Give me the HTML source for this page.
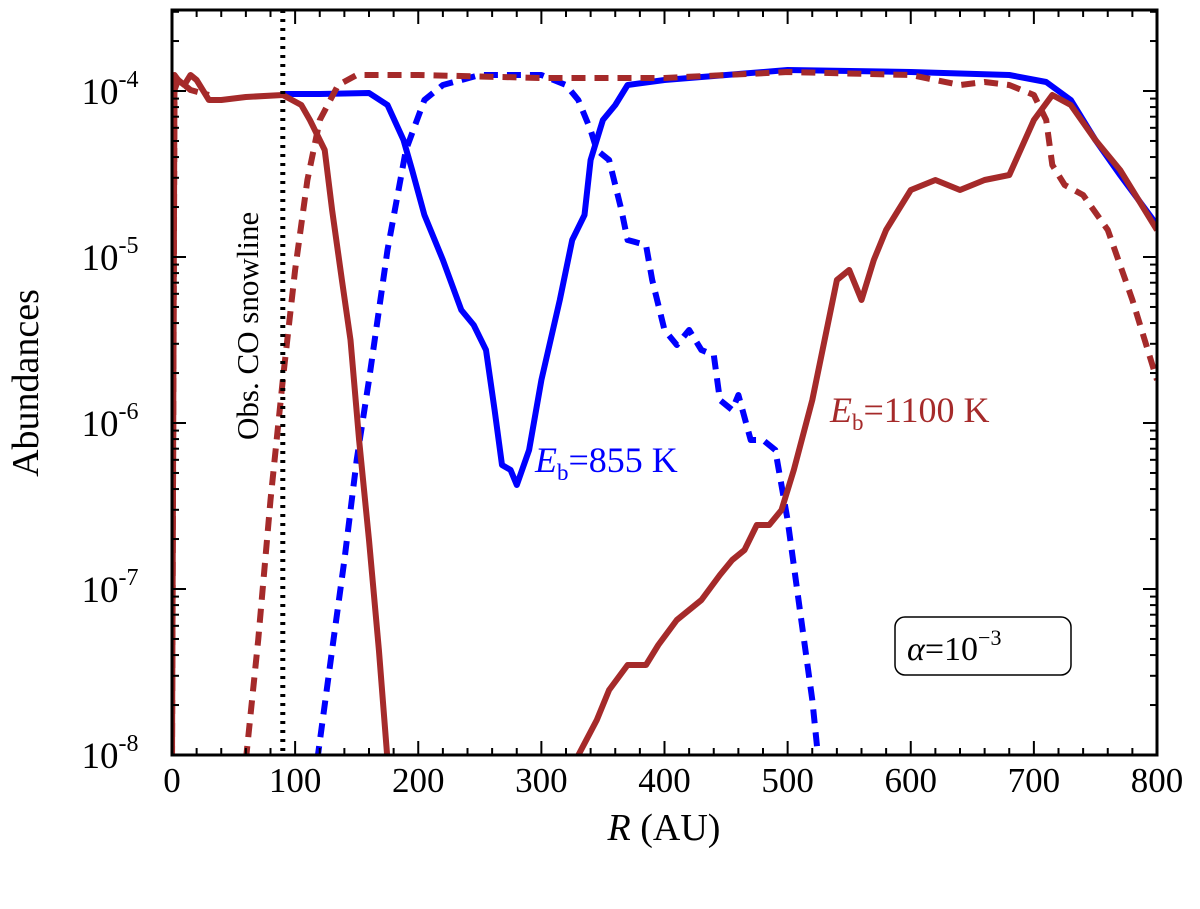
<!DOCTYPE html>
<html><head><meta charset="utf-8"><style>
body{margin:0;background:#fff}
svg text{font-family:"Liberation Serif",serif}
</style></head><body>
<svg id="chart" width="1200" height="904" xmlns="http://www.w3.org/2000/svg">
<g id="grid"></g>
<g id="series"></g>
<g id="axes"></g>
<line x1="282.8" y1="10" x2="282.8" y2="755" stroke="#000" stroke-width="5" stroke-dasharray="3,6"/>
<text transform="translate(258,440) rotate(-90)" font-size="31">Obs. CO snowline</text>
<text x="535" y="472" font-size="36" fill="#0000ff"><tspan font-style="italic">E</tspan><tspan font-size="23" dy="8">b</tspan><tspan dy="-8">=855 K</tspan></text>
<text x="830" y="422" font-size="36" fill="#a52a2a"><tspan font-style="italic">E</tspan><tspan font-size="23" dy="8">b</tspan><tspan dy="-8">=1100 K</tspan></text>
<rect x="895" y="617" width="176" height="58" rx="10" fill="#fff" stroke="#000" stroke-width="1.5"/>
<text x="907" y="660" font-size="34"><tspan font-style="italic">α</tspan>=10<tspan font-size="22" dy="-15">−3</tspan></text>
<text transform="translate(38,383) rotate(-90)" text-anchor="middle" font-size="38">Abundances</text>
<text x="664" y="840" text-anchor="middle" font-size="38"><tspan font-style="italic">R</tspan> (AU)</text>
</svg>
<script>
const xTicks=[0,100,200,300,400,500,600,700,800];
const yTicks=[-4,-5,-6,-7,-8];
const blueSolidR=[88,120,160,175,188,195,205,220,235,245,255,262,268,275,280,290,300,315,325,335,340,350,360,370,400,450,500,600,680,710,730,750,770,800];
const blueSolidY=[94,94,93,105,140,170,215,260,310,325,350,410,465,470,485,450,380,300,240,215,160,120,105,85,80,75,70,72,75,82,100,140,175,225];
const blueDashR=[118,130,140,150,160,175,190,205,220,250,300,320,330,340,345,355,365,370,385,390,400,410,420,430,440,445,455,460,470,480,490,500,510,520,525];
const blueDashY=[760,650,560,460,380,250,150,100,85,75,75,85,100,130,150,160,210,240,245,280,330,345,330,350,355,400,410,395,440,440,450,520,610,700,760];
const redSolid1R=[0,2,5,10,15,20,30,40,60,90,105,112,118,124,130,138,145,152,160,168,175];
const redSolid1Y=[760,75,80,85,75,80,100,100,97,95,105,120,135,150,210,280,340,440,540,650,760];
const redSolid2R=[328,345,355,370,385,395,410,430,445,455,465,475,485,495,505,520,530,540,550,560,570,580,590,600,620,640,660,680,700,715,730,750,770,800];
const redSolid2Y=[760,720,690,665,665,645,620,600,575,560,550,525,525,510,470,400,340,280,270,300,260,230,210,190,180,190,180,175,120,95,105,140,170,230];
const redDash1R=[0,2,5,15,30];
const redDash1Y=[760,90,80,90,95];
const redDash2R=[60,70,80,90,100,110,120,135,150,200,300,400,500,600,640,660,680,700,710,715,725,740,760,780,800];
const redDash2Y=[760,640,500,380,270,180,120,85,75,75,78,78,72,75,85,82,85,95,120,165,185,195,230,300,380];
const X0=172,X1=1157,Y0=10,Y1=755;
const xs=r=>X0+(r-0)/800*(X1-X0);
const toLog=p=>-4-(p-91)/166;
const ys=lg=>91+(-4-lg)*166;
const NS="http://www.w3.org/2000/svg";
const svg=document.getElementById('chart');
const ser=document.getElementById('series');
const axes=document.getElementById('axes');
function mk(t,a,p){const e=document.createElementNS(NS,t);for(const k in a)e.setAttribute(k,a[k]);(p||axes).appendChild(e);return e;}
const cp=mk('clipPath',{id:'clip'},svg);mk('rect',{x:X0,y:Y0,width:X1-X0,height:Y1-Y0},cp);
function line(R,Yp,col,dash,name){
  const d=R.map((r,i)=>(i?'L':'M')+xs(r).toFixed(1)+','+ys(toLog(Yp[i])).toFixed(1)).join('');
  const p=mk('path',{d:d,fill:'none',stroke:col,'stroke-width':6,'stroke-dasharray':dash,'clip-path':'url(#clip)','stroke-linejoin':'round'},ser);
  
  
}
line(blueSolidR,blueSolidY,'#0000ff','none','series-blue-solid');
line(blueDashR,blueDashY,'#0000ff','14,9','series-blue-dashed');
line(redSolid1R,redSolid1Y,'#a52a2a','none','series-red-solid-inner');
line(redSolid2R,redSolid2Y,'#a52a2a','none','series-red-solid-outer');
line(redDash1R,redDash1Y,'#a52a2a','14,9','series-red-dashed-inner');
line(redDash2R,redDash2Y,'#a52a2a','14,9','series-red-dashed-outer');
const fr=mk('rect',{x:X0,y:Y0,width:X1-X0,height:Y1-Y0,fill:'none',stroke:'#000','stroke-width':3});


for(let r=0;r<=800;r+=20){const x=xs(r),L=r%100===0?14:7;
  mk('line',{x1:x,y1:Y1,x2:x,y2:Y1-L,stroke:'#000','stroke-width':2});
  mk('line',{x1:x,y1:Y0,x2:x,y2:Y0+L,stroke:'#000','stroke-width':2});}
xTicks.forEach(r=>{const t=mk('text',{x:xs(r),y:792,'text-anchor':'middle','font-size':35});t.textContent=r;
  
  });
for(let dcd=-9;dcd<=-3;dcd++)for(let m=1;m<10;m++){const lg=dcd+Math.log10(m),y=ys(lg);if(y<Y0||y>Y1)continue;const L=m===1?14:7;
  mk('line',{x1:X0,y1:y,x2:X0+L,y2:y,stroke:'#000','stroke-width':2});
  mk('line',{x1:X1,y1:y,x2:X1-L,y2:y,stroke:'#000','stroke-width':2});}
yTicks.forEach(v=>{const t=mk('text',{x:110,y:ys(v)+13,'text-anchor':'middle','font-size':37});
  t.innerHTML='10<tspan font-size="24" dy="-17">'+v+'</tspan>';
  
  });
</script>
</body></html>
